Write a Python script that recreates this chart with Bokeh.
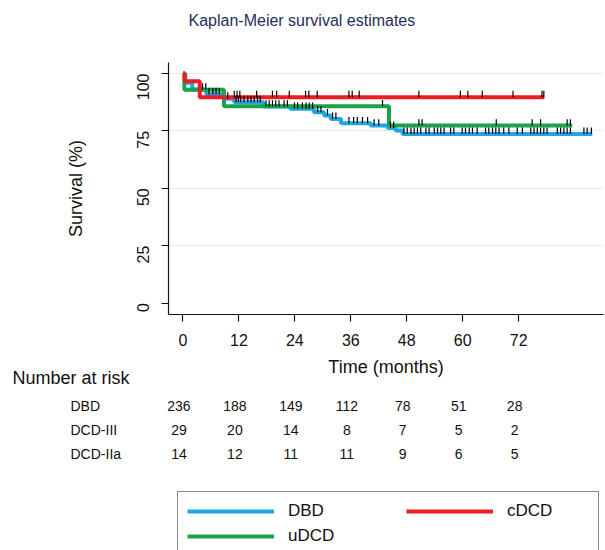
import math
import numpy as np
from bokeh.plotting import figure
from bokeh.layouts import column
from bokeh.core.properties import value
from bokeh.models import Range1d, FixedTicker, Legend, LegendItem, Title
from bokeh.embed import file_html
from bokeh.resources import INLINE

# ---------------- data ----------------
x_ticks = [0, 12, 24, 36, 48, 60, 72]
y_ticks = [0, 25, 50, 75, 100]
grid_ticks = [25, 50, 75, 100]

# Kaplan-Meier step curves (time in months, survival in %), last point = end of follow-up
dbd_time = [0, 0.5, 2, 5, 8.8, 11.0, 17.3, 23.0, 28.1, 30.3, 31.7, 33.9, 40.3, 43.9, 45.6, 47.1, 87.8]
dbd_surv = [100, 96, 93, 91, 89, 87.5, 85.6, 84.6, 83.1, 81.7, 80.2, 78.3, 77.3, 76.3, 75.2, 73.7, 73.7]

udcd_time = [0, 0.3, 8.8, 44.2, 83.5]
udcd_surv = [100, 92.9, 85.7, 77.3, 77.3]

cdcd_time = [0, 0.4, 3.6, 77.5]
cdcd_surv = [100, 96.6, 89.7, 89.7]

# censoring times (months)
dbd_cens = [4.2, 4.9, 5.6, 6.4, 7.1, 7.8, 9.6, 11.4, 11.9, 12.4, 13.1, 13.9, 14.6, 15.3,
            16.0, 16.6, 17.8, 18.5, 19.2, 19.9, 20.6, 21.7, 22.4, 23.9, 24.6, 25.6, 26.4,
            27.1, 27.8, 28.9, 29.6, 31.0, 32.1, 32.8, 35.6, 36.6, 37.4, 38.5, 39.6, 41.0,
            42.0, 44.5, 45.2, 47.4, 48.1, 48.9, 49.6, 50.3, 51.0, 52.1, 52.8, 53.9, 54.6,
            55.3, 56.0, 57.4, 58.1, 59.9, 60.6, 61.4, 62.1, 63.1, 64.9, 65.6, 66.4, 67.1,
            67.8, 68.8, 69.9, 71.7, 72.8, 74.6, 75.3, 76.0, 76.7, 77.4, 78.1, 80.3, 81.0,
            81.7, 82.4, 83.1, 86.0, 86.7, 87.6]
udcd_cens = [42.8, 50.6, 51.3, 67.2, 74.9, 76.7, 82.4, 83.1]
cdcd_cens = [11.0, 11.6, 12.2, 15.8, 19.2, 20.1, 22.8, 26.3, 27.0, 28.8, 35.6, 36.3, 37.8,
             50.6, 59.5, 61.1, 64.2, 70.8, 77.0, 77.4]

# number at risk table
risk_groups = ["DBD", "DCD-III", "DCD-IIa"]
risk_dbd = [236, 188, 149, 112, 78, 51, 28]
risk_dcd3 = [29, 20, 14, 8, 7, 5, 2]
risk_dcd2a = [14, 12, 11, 11, 9, 6, 5]

legend_labels = ["DBD", "uDCD", "cDCD"]

# ---------------- style / layout ----------------
FONT = "Liberation Sans"
INK = "#111111"
BLUE, GREEN, RED = "#1fa6e3", "#1aa34a", "#ee1c25"
LW = 4
W = 605
X0, X1 = -3.1, 90.2           # x range (months)
Y0, Y1 = -5, 104.8            # y range (%)
LIFT = 28                     # main figure slides up (its top border holds the title)
FL, FR = 168, 603             # frame left / right (px)
FT, FB = 62 + LIFT, 314 + LIFT   # frame top / bottom in main-figure canvas px
H1 = 380 + LIFT               # main figure canvas height
OVERLAP = 16                  # table figure slides up under the axis-title area
TOP2 = 380 - OVERLAP          # page y of the table figure's top
H2 = 550 - TOP2
ROW_PAGE_Y, ROW_PITCH = 381, 24
TICK_H = 2.8                  # censor tick height (survival units)

# ================= main KM figure =================
p = figure(width=W, height=H1, output_backend="svg", toolbar_location=None,
           x_range=Range1d(X0, X1), y_range=Range1d(Y0, Y1),
           min_border_left=FL, min_border_right=W - FR, min_border_top=FT,
           min_border_bottom=H1 - FB, frame_align=False,
           margin=(-LIFT, 0, 0, 0))
p.outline_line_color = None
p.background_fill_color = "white"
p.border_fill_color = "white"
p.xgrid.visible = False
p.ygrid.ticker = FixedTicker(ticks=grid_ticks)
p.ygrid.grid_line_color = "#e3ecf1"
p.ygrid.grid_line_width = 1

p.xaxis.ticker = FixedTicker(ticks=x_ticks)
p.yaxis.ticker = FixedTicker(ticks=y_ticks)
for ax in (p.xaxis[0], p.yaxis[0]):
    ax.axis_line_color = INK
    ax.axis_line_width = 1.2
    ax.major_tick_line_color = INK
    ax.major_tick_line_width = 1.2
    ax.major_tick_out = 7
    ax.major_tick_in = 0
    ax.minor_tick_line_color = None
    ax.major_label_text_font = FONT
    ax.major_label_text_font_size = "16px"
    ax.major_label_text_color = INK
    ax.axis_label_text_font = FONT
    ax.axis_label_text_font_size = "18px"
    ax.axis_label_text_font_style = "normal"
    ax.axis_label_text_color = INK
p.xaxis.axis_label = "Time (months)"
p.xaxis.major_label_standoff = 12
p.xaxis.axis_label_standoff = 8
p.yaxis.axis_label = "Survival (%)"
p.yaxis.major_label_orientation = math.pi / 2
p.yaxis.major_label_standoff = 18
p.yaxis.axis_label_standoff = 43

p.add_layout(Title(text="Kaplan-Meier survival estimates", align="left", offset=20, standoff=68,
                   text_font=FONT, text_font_size="16px", text_font_style="normal",
                   text_color="#1e2f5c"), "above")

r_dbd = p.step(dbd_time, dbd_surv, mode="after", line_color=BLUE, line_width=LW)
r_udcd = p.step(udcd_time, udcd_surv, mode="after", line_color=GREEN, line_width=LW)
r_cdcd = p.step(cdcd_time, cdcd_surv, mode="after", line_color=RED, line_width=LW)


def surv_at(times, surv, t):
    idx = np.searchsorted(np.asarray(times), np.asarray(t), side="right") - 1
    return np.asarray(surv)[idx]


for times, surv, cens in ((dbd_time, dbd_surv, dbd_cens),
                          (udcd_time, udcd_surv, udcd_cens),
                          (cdcd_time, cdcd_surv, cdcd_cens)):
    s = surv_at(times, surv, cens)
    p.segment(x0=cens, y0=s, x1=cens, y1=s + TICK_H, line_color="black", line_width=1.2)

# ================= number-at-risk table + legend figure =================
k = (X1 - X0) / (FR - FL)                     # months per pixel, same as main figure
row0 = ROW_PAGE_Y - TOP2                      # canvas y of row 0
p2 = figure(width=W, height=H2, output_backend="svg", toolbar_location=None,
            x_range=Range1d(X0 - FL * k, X1 + (W - FR) * k),
            y_range=Range1d((H2 - row0) / ROW_PITCH, (0 - row0) / ROW_PITCH),
            x_axis_type=None, y_axis_type=None,
            min_border=0, min_border_left=0, min_border_right=0,
            min_border_top=0, min_border_bottom=0, frame_align=False,
            margin=(-OVERLAP, 0, 0, 0))
p2.outline_line_color = None
p2.background_fill_alpha = 0
p2.border_fill_alpha = 0
p2.grid.visible = False

xs = p2.x_range.start
p2.text(x=x_ticks * 3, y=[1] * 7 + [2] * 7 + [3] * 7,
        text=[str(v) for v in risk_dbd + risk_dcd3 + risk_dcd2a],
        text_align="center", text_baseline="middle", x_offset=-4,
        text_font=value(FONT), text_font_size="14px", text_color=INK)
p2.text(x=[xs] * 3, y=[1, 2, 3], text=risk_groups, x_offset=70,
        text_align="left", text_baseline="middle",
        text_font=value(FONT), text_font_size="14px", text_color=INK)
p2.text(x=[xs], y=[-1 / 6], text=["Number at risk"], x_offset=12,
        text_align="left", text_baseline="middle",
        text_font=value(FONT), text_font_size="18px", text_color=INK)

# legend (glyph samples copy the curve styles; NaN data draws nothing in the plot)
nan = [float("nan")]
l_dbd = p2.line(x=nan, y=nan, line_color=BLUE, line_width=LW)
l_udcd = p2.line(x=nan, y=nan, line_color=GREEN, line_width=LW)
l_cdcd = p2.line(x=nan, y=nan, line_color=RED, line_width=LW)

PAD, GW, GH, SP, STD = 9, 87, 20, 5, 14
common = dict(padding=PAD, margin=0, glyph_width=GW, glyph_height=GH, label_height=GH,
              label_standoff=STD, spacing=SP, label_text_font=FONT,
              label_text_font_size="17px", label_text_color=INK)
box_top = H2 - (493 - TOP2)                   # legend top, bottom-up from frame bottom
legA = Legend(items=[LegendItem(label=legend_labels[0], renderers=[l_dbd]),
                     LegendItem(label=legend_labels[1], renderers=[l_udcd])],
              location=(177, box_top - (2 * PAD + 2 * GH + SP)),
              label_width=420 - 2 * PAD - GW - STD,
              border_line_color="#1a1a1a", border_line_width=1.5,
              background_fill_color="white", background_fill_alpha=1, **common)
legB = Legend(items=[LegendItem(label=legend_labels[2], renderers=[l_cdcd])],
              location=(406, box_top - (2 * PAD + GH) + 10), label_width=60,
              border_line_color=None, background_fill_alpha=0, **common)
p2.add_layout(legA)
p2.add_layout(legB)

layout = column(p, p2, spacing=0)
open("out.html", "w").write(file_html(layout, INLINE))
